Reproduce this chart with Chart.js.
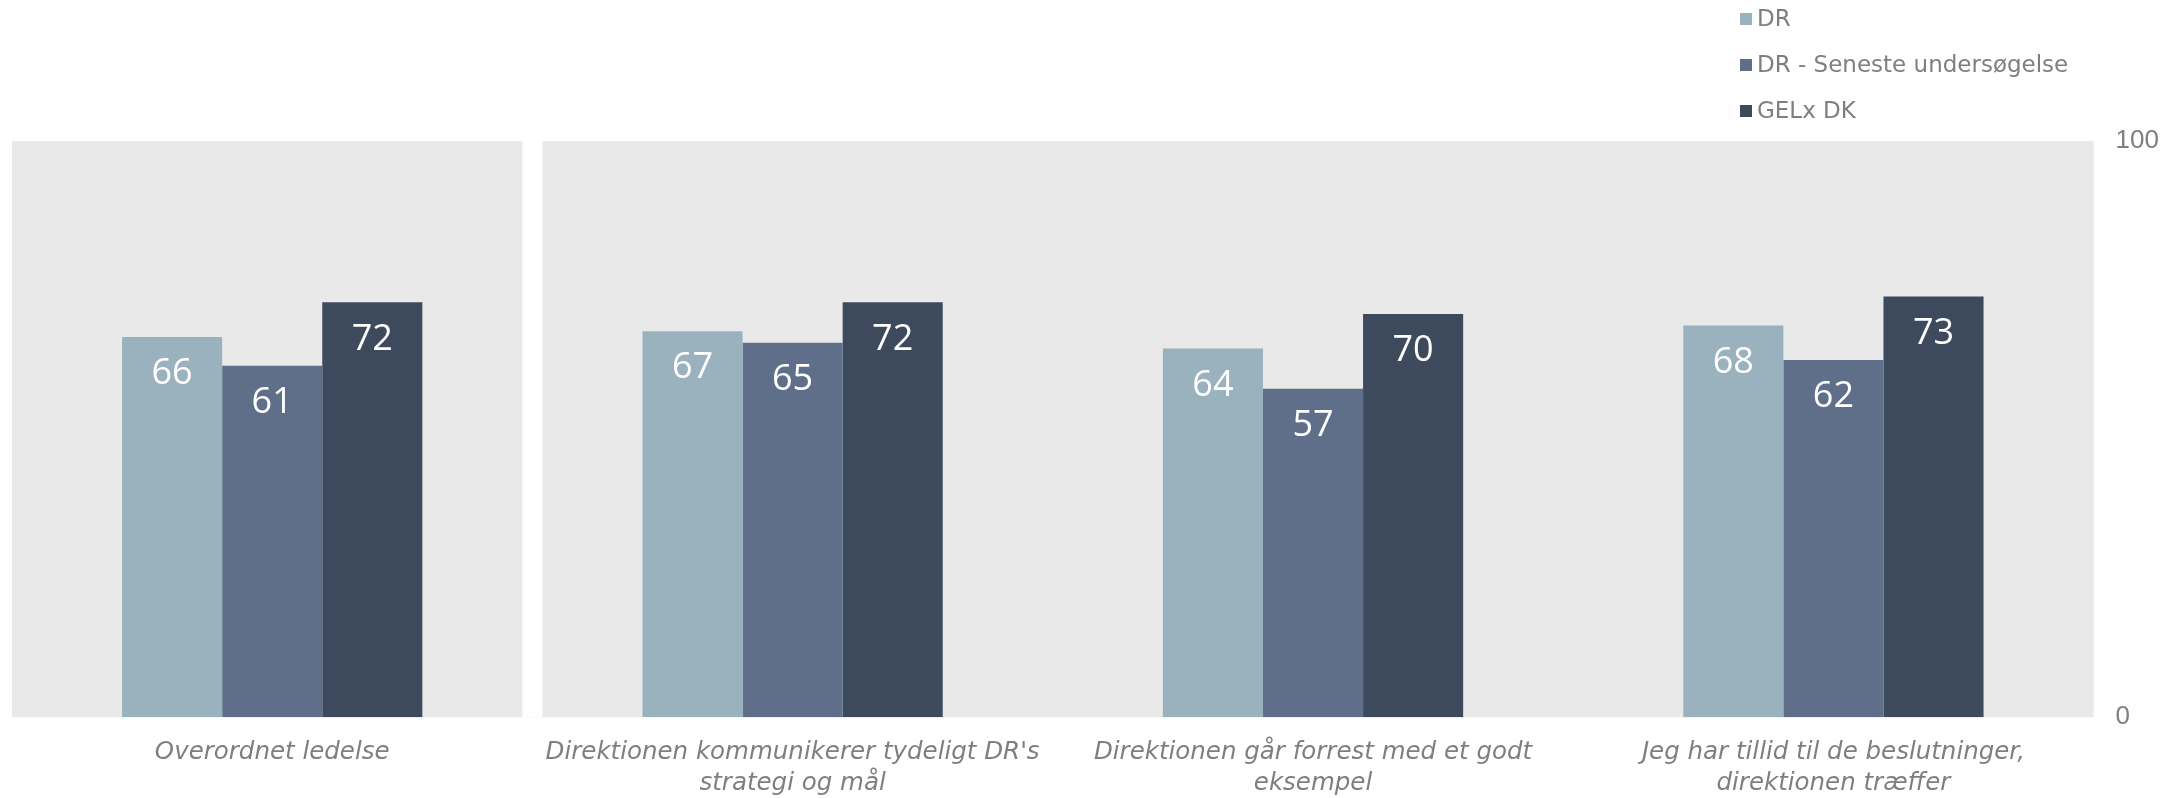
<!DOCTYPE html>
<html>
<head>
<meta charset="utf-8">
<script src="https://cdn.jsdelivr.net/npm/chart.js@4"></script>
<style>
  html, body { margin: 0; padding: 0; background: #fff; }
  #wrap { position: relative; width: 2182px; height: 798px; }
  #legend { position: absolute; left: 1740px; top: 0px; font-family: "DejaVu Sans", sans-serif; font-size: 23px; color: #7F7F7F; }
  #legend div { height: 46px; line-height: 36px; white-space: nowrap; }
  #legend span.box { display: inline-block; width: 12px; height: 12px; margin-right: 5px; vertical-align: 1px; }
</style>
</head>
<body>
<div id="wrap">
  <canvas id="chart" width="2182" height="798"></canvas>
  <div id="legend"></div>
</div>
<script>
const categories = [
  "Overordnet ledelse",
  ["Direktionen kommunikerer tydeligt DR's", "strategi og mål"],
  ["Direktionen går forrest med et godt", "eksempel"],
  ["Jeg har tillid til de beslutninger,", "direktionen træffer"]
];
const series_names = ["DR", "DR - Seneste undersøgelse", "GELx DK"];
const dr_values = [66, 67, 64, 68];
const dr_latest_values = [61, 65, 57, 62];
const gelx_values = [72, 72, 70, 73];
const y_ticks = [0, 100];

const colors = ["#9AB2BE", "#5F6F8A", "#3D4A5E"];
const label_font = "'DejaVu Sans', sans-serif";

// grey panels behind the bars, first category split from the rest
const panelBackground = {
  id: "panelBackground",
  beforeDatasetsDraw(chart) {
    const { ctx, chartArea, scales } = chart;
    ctx.save();
    ctx.fillStyle = "#E9E9E9";
    ctx.fillRect(chartArea.left, chartArea.top, chartArea.right - chartArea.left, chartArea.bottom - chartArea.top);
    const split = (scales.x.getPixelForTick(0) + scales.x.getPixelForTick(1)) / 2;
    ctx.fillStyle = "#fff";
    ctx.fillRect(split - 10, chartArea.top, 20, chartArea.bottom - chartArea.top);
    ctx.restore();
  }
};

// white numbers inside the bar tops
const barValues = {
  id: "barValues",
  afterDatasetsDraw(chart) {
    const { ctx } = chart;
    ctx.save();
    ctx.fillStyle = "#fff";
    ctx.font = "36px 'Open Sans', sans-serif";
    ctx.textAlign = "center";
    ctx.textBaseline = "middle";
    chart.data.datasets.forEach((ds, i) => {
      chart.getDatasetMeta(i).data.forEach((bar, j) => {
        ctx.fillText(ds.data[j], bar.x, bar.y + 37);
      });
    });
    ctx.restore();
  }
};

const ctx = document.getElementById("chart").getContext("2d");
const my_chart = new Chart(ctx, {
  type: "bar",
  data: {
    labels: categories,
    datasets: [
      { label: series_names[0], data: dr_values, backgroundColor: colors[0] },
      { label: series_names[1], data: dr_latest_values, backgroundColor: colors[1] },
      { label: series_names[2], data: gelx_values, backgroundColor: colors[2] }
    ]
  },
  options: {
    responsive: false,
    animation: false,
    datasets: { bar: { barPercentage: 1, categoryPercentage: 0.577 } },
    layout: { padding: { left: 12, top: 141, right: 1, bottom: -21 } },
    plugins: {
      legend: { display: false },
      tooltip: { enabled: false }
    },
    scales: {
      x: {
        grid: { display: false, drawTicks: false },
        border: { display: false },
        ticks: {
          color: "#7F7F7F",
          padding: 19,
          maxRotation: 0,
          autoSkip: false,
          font: { family: label_font, size: 24.5, style: "italic", lineHeight: 1.3 }
        }
      },
      y: {
        position: "right",
        min: 0,
        max: 100,
        afterBuildTicks(axis) { axis.ticks = y_ticks.map(v => ({ value: v })); },
        grid: { display: false, drawTicks: false },
        border: { display: false },
        ticks: {
          color: "#7F7F7F",
          padding: 22,
          font: { family: "'Liberation Sans', sans-serif", size: 26 }
        }
      }
    }
  },
  plugins: [panelBackground, barValues]
});

// legend as a vertical list in the top right corner
const legend = document.getElementById("legend");
my_chart.data.datasets.forEach(ds => {
  const row = document.createElement("div");
  row.innerHTML = '<span class="box" style="background:' + ds.backgroundColor + '"></span>' + ds.label;
  legend.appendChild(row);
});
</script>
</body>
</html>
